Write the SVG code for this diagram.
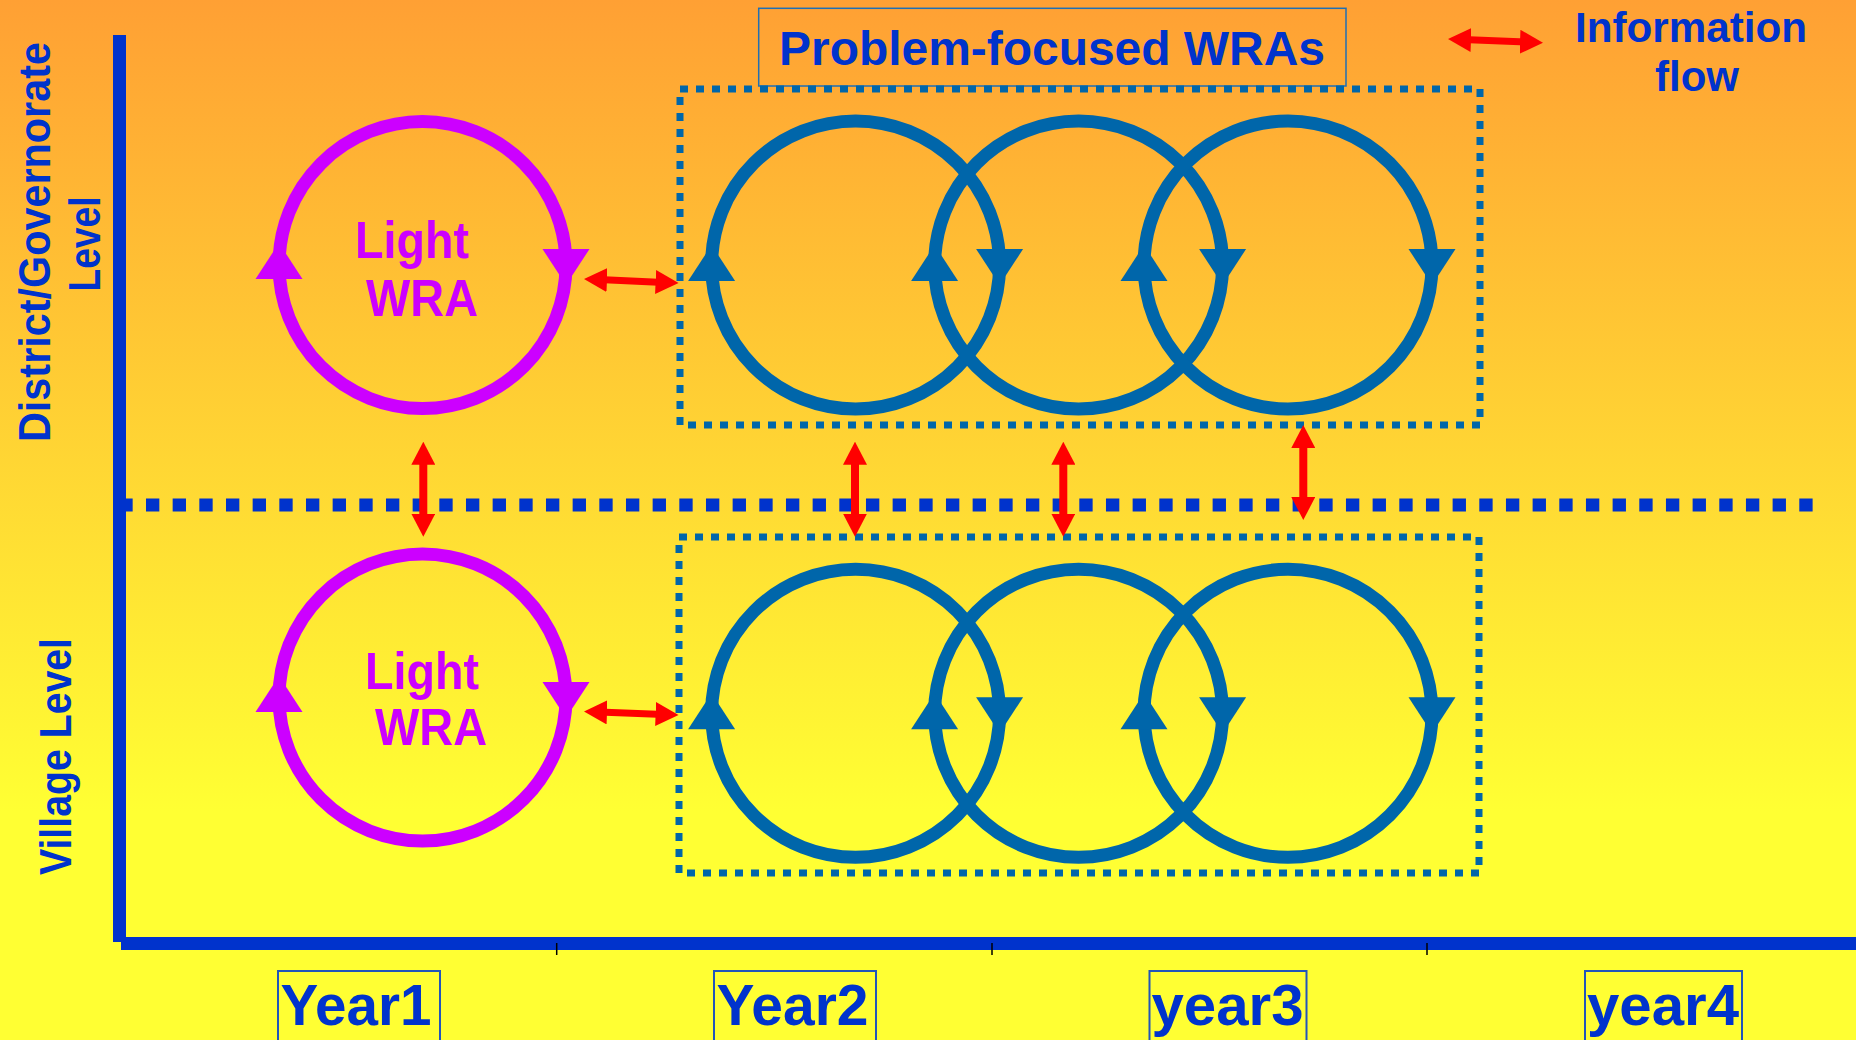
<svg xmlns="http://www.w3.org/2000/svg" width="1856" height="1040" viewBox="0 0 1856 1040">
<defs>
<linearGradient id="bg" x1="0" y1="0" x2="0" y2="1040" gradientUnits="userSpaceOnUse">
<stop offset="0" stop-color="#FFA034"/>
<stop offset="0.78" stop-color="#FFFF33"/>
<stop offset="1" stop-color="#FFFF33"/>
</linearGradient>
<path id="up" d="M0,-20 L23.5,16 L-23.5,16 Z"/>
<path id="down" d="M-23.5,-16 L23.5,-16 L0,20 Z"/>
<marker id="rh" viewBox="0 0 23 24" markerWidth="23" markerHeight="24" refX="8" refY="12" orient="auto-start-reverse" markerUnits="userSpaceOnUse"><path d="M0,0 L23,12 L0,24 Z" fill="#FF0000"/></marker>
</defs>
<style>
.purple{fill:none;stroke:#CC00FF;stroke-width:13}
.pa{fill:#CC00FF}
.blue{fill:none;stroke:#0066AA;stroke-width:13}
.ba{fill:#0066AA}
.dotbox{fill:none;stroke:#0066AA;stroke-width:7;stroke-dasharray:8 8}
.info{stroke:#FF0000;fill:none;marker-start:url(#rh);marker-end:url(#rh)}
.h{stroke-width:7}
.v{stroke-width:8}
.lbl{font-family:"Liberation Sans","DejaVu Sans",sans-serif;font-weight:bold;fill:#0033CC}
.wra{font-family:"Liberation Sans","DejaVu Sans",sans-serif;font-weight:bold;fill:#CC00FF;font-size:52px}
.yearbox{fill:none;stroke:#2255BB;stroke-width:2}
.tick{stroke:#000000;stroke-width:1.5}
.axis{stroke:#0033CC;stroke-width:13;fill:none}
</style>
<rect x="0" y="0" width="1856" height="1040" fill="url(#bg)"/>

<g id="axes">
<line class="axis" x1="119.5" y1="35" x2="119.5" y2="942"/>
<line class="axis" x1="121" y1="943.5" x2="1856" y2="943.5"/>
<line class="tick" x1="556.7" y1="943" x2="556.7" y2="955"/>
<line class="tick" x1="992" y1="943" x2="992" y2="955"/>
<line class="tick" x1="1427" y1="943" x2="1427" y2="955"/>
</g>

<g id="level-separator">
<line x1="119.33" y1="505" x2="1812.7" y2="505" stroke="#0033CC" stroke-width="13" stroke-dasharray="13.333 13.333"/>
</g>

<g id="level-labels">
<text class="lbl" font-size="44" text-anchor="middle" textLength="400" lengthAdjust="spacingAndGlyphs" transform="translate(50,242) rotate(-90)">District/Governorate</text>
<text class="lbl" font-size="44" text-anchor="middle" textLength="95" lengthAdjust="spacingAndGlyphs" transform="translate(100.4,244) rotate(-90)">Level</text>
<text class="lbl" font-size="44" text-anchor="middle" textLength="237" lengthAdjust="spacingAndGlyphs" transform="translate(71.4,756.5) rotate(-90)">Village Level</text>
</g>

<g id="title-pf">
<rect x="758.7" y="8.3" width="587.3" height="77.7" fill="none" stroke="#1F6FB5" stroke-width="1.5"/>
<text class="lbl" x="779" y="65" font-size="48" textLength="546" lengthAdjust="spacingAndGlyphs">Problem-focused WRAs</text>
</g>

<g id="legend">
<text class="lbl" x="1691" y="41.7" font-size="42" text-anchor="middle" textLength="232" lengthAdjust="spacingAndGlyphs">Information</text>
<text class="lbl" x="1697" y="90.7" font-size="42" text-anchor="middle">flow</text>
</g>

<g id="pf-box-district"><rect class="dotbox" x="680" y="89" width="800" height="336"/></g>
<g id="pf-box-village"><rect class="dotbox" x="679" y="537" width="800" height="336"/></g>

<g id="light-district">
<circle class="purple" cx="422.5" cy="265" r="143.5"/>
<use href="#up" class="pa" x="279" y="263"/>
<use href="#down" class="pa" x="566" y="265"/>
<text class="wra" x="412" y="258" text-anchor="middle" textLength="114" lengthAdjust="spacingAndGlyphs">Light</text>
<text class="wra" x="422" y="316" text-anchor="middle" textLength="112" lengthAdjust="spacingAndGlyphs">WRA</text>
</g>

<g id="light-village">
<circle class="purple" cx="422.5" cy="697.5" r="143.5"/>
<use href="#up" class="pa" x="279" y="696"/>
<use href="#down" class="pa" x="566" y="698"/>
<text class="wra" x="422" y="689" text-anchor="middle" textLength="114" lengthAdjust="spacingAndGlyphs">Light</text>
<text class="wra" x="431" y="745" text-anchor="middle" textLength="112" lengthAdjust="spacingAndGlyphs">WRA</text>
</g>

<g id="pf-district-1">
<circle class="blue" cx="855.6" cy="265" r="144"/>
<use href="#up" class="ba" x="711.6" y="265"/>
<use href="#down" class="ba" x="999.6" y="265"/>
</g>
<g id="pf-district-2">
<circle class="blue" cx="1078.6" cy="265" r="144"/>
<use href="#up" class="ba" x="934.6" y="265"/>
<use href="#down" class="ba" x="1222.6" y="265"/>
</g>
<g id="pf-district-3">
<circle class="blue" cx="1288" cy="265" r="144"/>
<use href="#up" class="ba" x="1144" y="265"/>
<use href="#down" class="ba" x="1432" y="265"/>
</g>

<g id="pf-village-1">
<circle class="blue" cx="855.6" cy="713.3" r="144"/>
<use href="#up" class="ba" x="711.6" y="713.3"/>
<use href="#down" class="ba" x="999.6" y="713.3"/>
</g>
<g id="pf-village-2">
<circle class="blue" cx="1078.6" cy="713.3" r="144"/>
<use href="#up" class="ba" x="934.6" y="713.3"/>
<use href="#down" class="ba" x="1222.6" y="713.3"/>
</g>
<g id="pf-village-3">
<circle class="blue" cx="1288" cy="713.3" r="144"/>
<use href="#up" class="ba" x="1144" y="713.3"/>
<use href="#down" class="ba" x="1432" y="713.3"/>
</g>

<g id="connectors">
<line class="info h" x1="599" y1="279.6" x2="663.6" y2="282.4"/>
<line class="info h" x1="599" y1="712.1" x2="663.6" y2="714.4"/>
<line class="info h" x1="1463" y1="39.6" x2="1528" y2="42.1"/>
<line class="info v" x1="423.3" y1="456.7" x2="423.3" y2="521.7"/>
<line class="info v" x1="855" y1="456.7" x2="855" y2="521.7"/>
<line class="info v" x1="1063.3" y1="456.7" x2="1063.3" y2="521.7"/>
<line class="info v" x1="1303.3" y1="440" x2="1303.3" y2="505"/>
</g>

<g id="year1"><rect class="yearbox" x="278" y="971" width="162" height="72"/><text class="lbl" x="280.5" y="1025" font-size="58" textLength="151" lengthAdjust="spacingAndGlyphs">Year1</text></g>
<g id="year2"><rect class="yearbox" x="714" y="971" width="162" height="72"/><text class="lbl" x="716.5" y="1025" font-size="58" textLength="152" lengthAdjust="spacingAndGlyphs">Year2</text></g>
<g id="year3"><rect class="yearbox" x="1149.5" y="971" width="157" height="72"/><text class="lbl" x="1151.5" y="1025" font-size="58" textLength="152" lengthAdjust="spacingAndGlyphs">year3</text></g>
<g id="year4"><rect class="yearbox" x="1585" y="971" width="157" height="72"/><text class="lbl" x="1587" y="1025" font-size="58" textLength="152" lengthAdjust="spacingAndGlyphs">year4</text></g>
</svg>
